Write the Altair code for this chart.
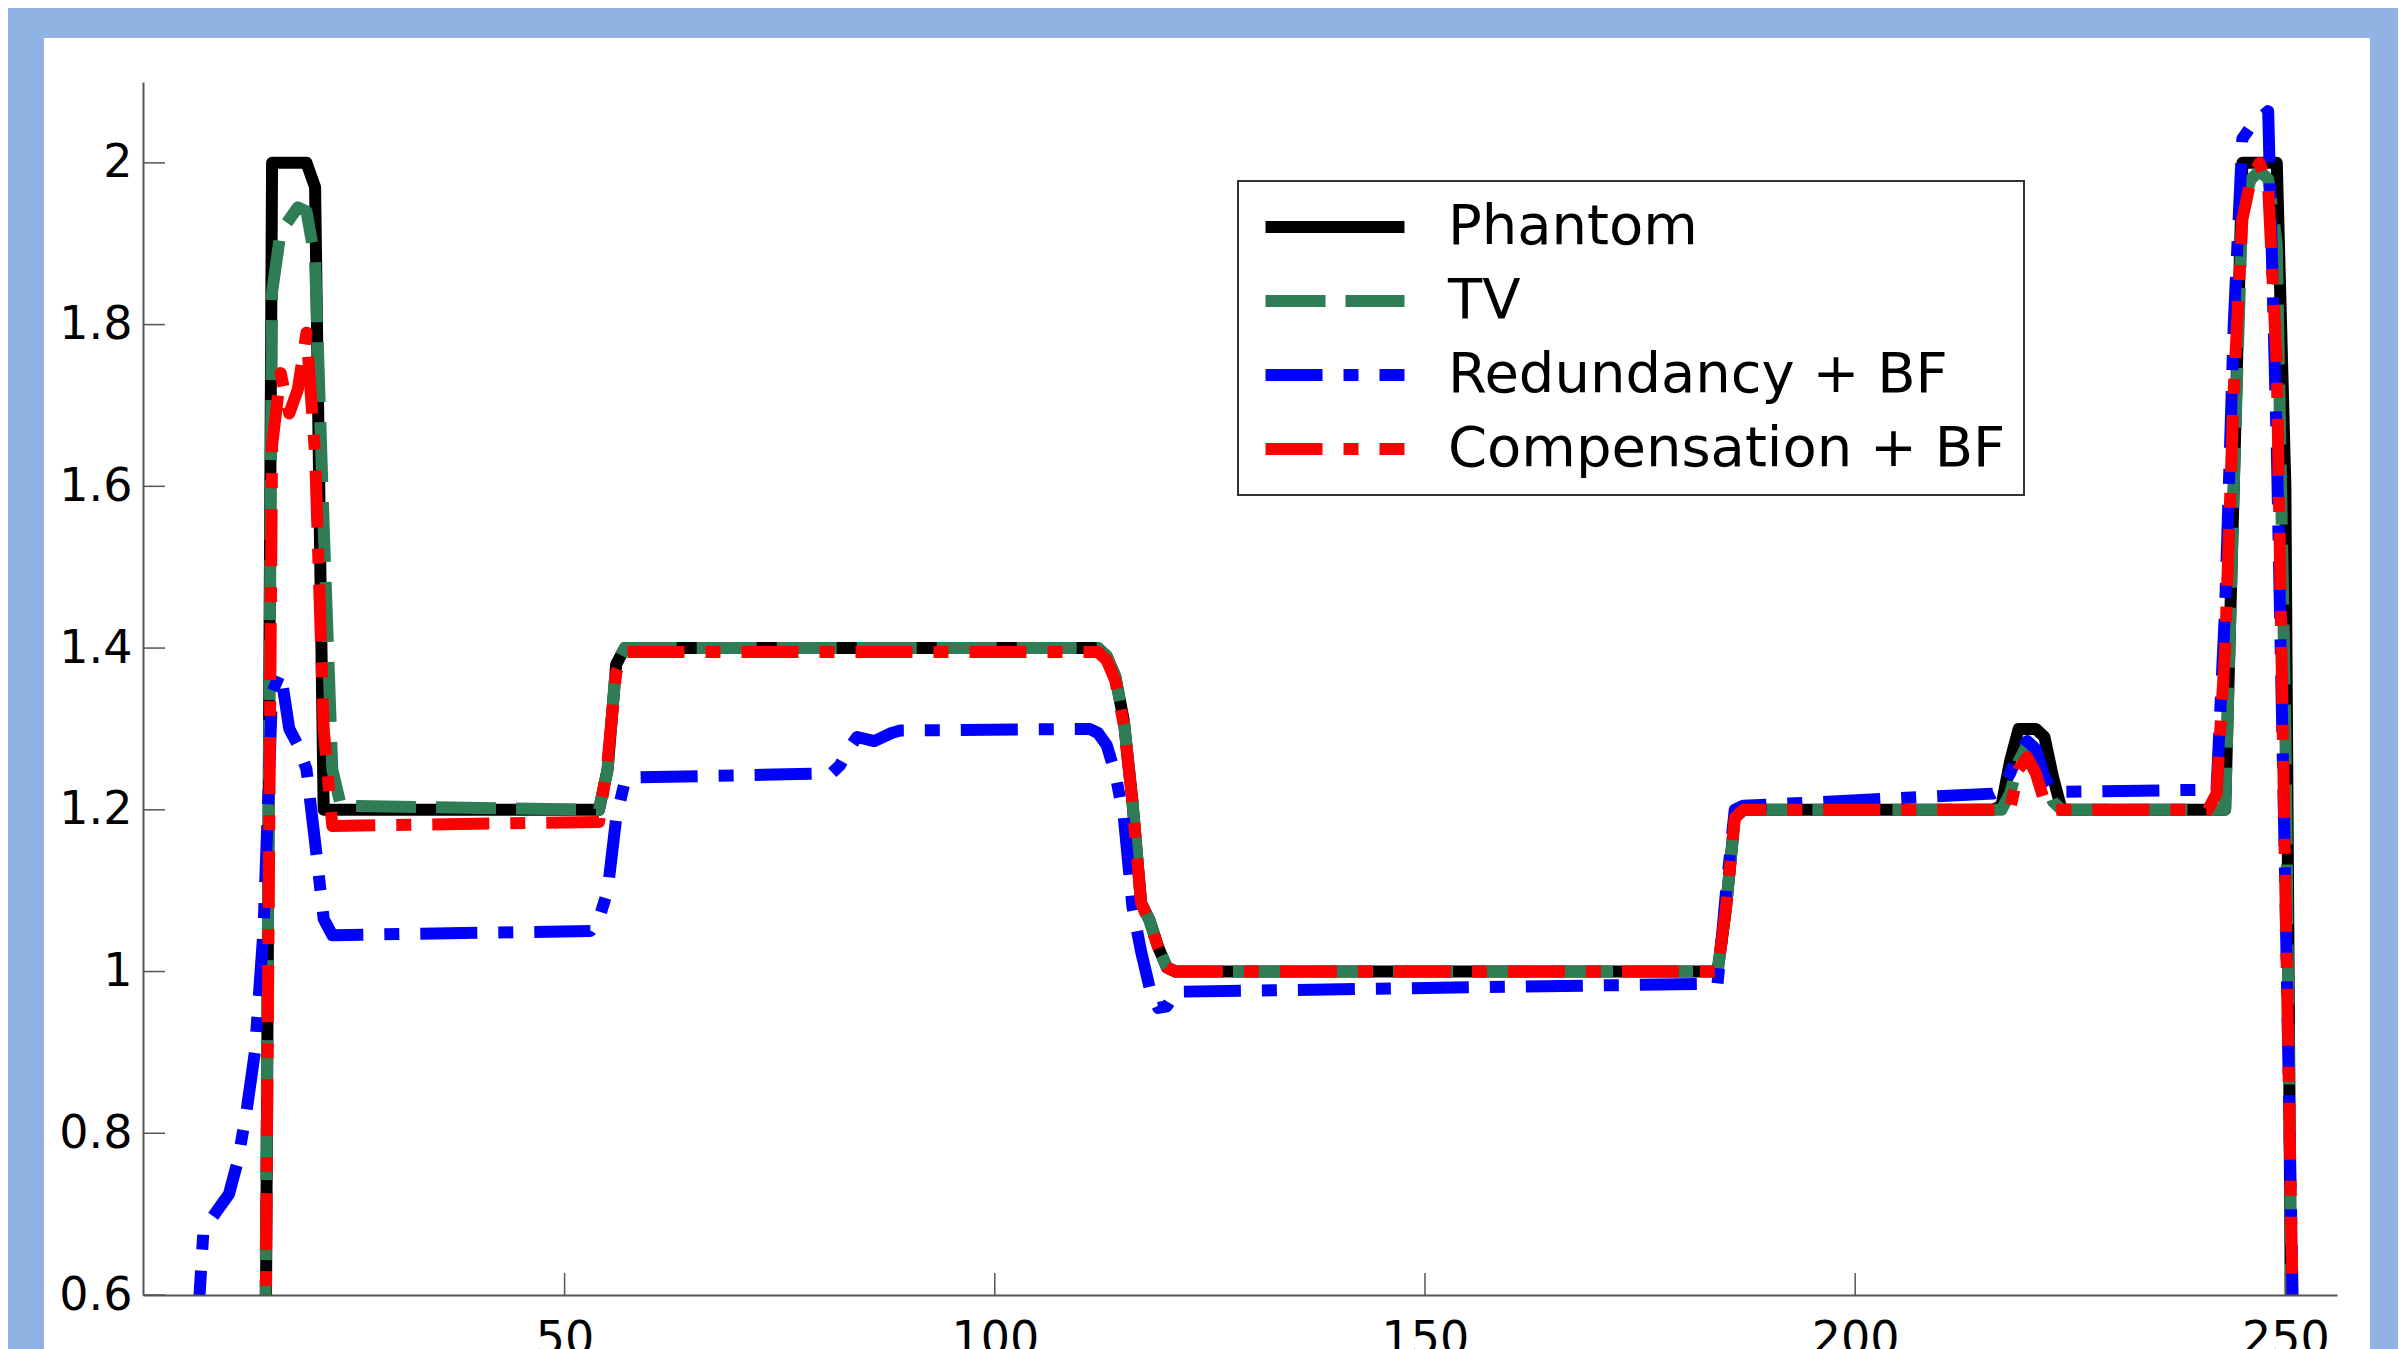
import altair as alt
import pandas as pd

SERIES = ["Phantom", "TV", "Redundancy + BF", "Compensation + BF"]
COLORS = ["#000000", "#2E7D55", "#0000FF", "#FF0000"]
DASHES = [[1, 0], [60, 20], [57, 21, 15, 21], [57, 21, 15, 21]]

X_TICKS = [50, 100, 150, 200, 250]
Y_TICKS = [0.6, 0.8, 1.0, 1.2, 1.4, 1.6, 1.8, 2.0]

PHANTOM_X = [1, 15, 16, 20, 21, 22, 54, 55, 56, 57, 112, 113, 114, 115, 116, 117, 118, 119, 120, 121,
             184, 185, 186, 187, 216, 217, 218, 219, 221, 222, 223, 224, 243, 245, 249, 250, 251, 256]
PHANTOM_Y = [0, 0, 2.0, 2.0, 1.97, 1.2, 1.2, 1.25, 1.38, 1.4, 1.4, 1.39, 1.365, 1.31, 1.21, 1.085, 1.063, 1.03, 1.005, 1.0,
             1.0, 1.08, 1.19, 1.2, 1.2, 1.205, 1.26, 1.3, 1.3, 1.29, 1.24, 1.2, 1.2, 2.0, 2.0, 1.6, 0, 0]

TV_X = [1, 15, 16, 17, 18, 19, 20, 21, 22, 23, 24, 54, 55, 56, 57, 112, 113, 114, 115, 116, 117, 118, 119, 120, 121,
        184, 185, 186, 187, 216, 217, 218, 219, 220, 221, 222, 223, 224, 243, 244, 245, 246, 247, 248, 249, 250, 251, 256]
TV_Y = [0, 0.2, 1.84, 1.915, 1.93, 1.945, 1.94, 1.88, 1.55, 1.25, 1.205, 1.2, 1.25, 1.38, 1.4, 1.4, 1.39, 1.365, 1.31, 1.21, 1.085, 1.063, 1.03, 1.005, 1.0,
        1.0, 1.08, 1.19, 1.2, 1.2, 1.2, 1.22, 1.26, 1.28, 1.27, 1.24, 1.21, 1.2, 1.2, 1.6, 1.95, 1.98, 1.99, 1.98, 1.9, 1.3, 0.3, 0]

REDUND_X = [1, 7, 8, 9, 10, 11, 12, 13, 14, 15, 16, 17, 18, 19, 20, 21, 22, 23, 53, 54, 55, 56, 57, 58,
            81, 82, 83, 84, 86, 88, 89, 111, 112, 113, 114, 115, 116, 117, 118, 119, 120, 121,
            184, 185, 186, 187, 216, 217, 218, 219, 220, 221, 222, 223, 242, 243, 244, 245, 246, 247, 248, 249, 250, 251, 256]
REDUND_Y = [0, 0.5, 0.675, 0.695, 0.71, 0.725, 0.765, 0.825, 0.9, 1.05, 1.345, 1.37, 1.3, 1.28, 1.25, 1.16, 1.065, 1.045, 1.05, 1.065, 1.1, 1.19, 1.235, 1.24,
            1.245, 1.255, 1.275, 1.29, 1.285, 1.295, 1.298, 1.3, 1.295, 1.28, 1.245, 1.19, 1.08, 1.025, 0.98, 0.955, 0.957, 0.975,
            0.985, 1.1, 1.2, 1.205, 1.22, 1.225, 1.245, 1.27, 1.285, 1.275, 1.24, 1.222, 1.225, 1.45, 1.8, 2.03, 2.045, 2.055, 2.064, 1.65, 1.1, 0.5, 0]

COMP_X = [1, 15, 16, 17, 18, 19, 20, 21, 22, 23, 54, 55, 56, 57, 112, 113, 114, 115, 116, 117, 118, 119, 120, 121,
          184, 185, 186, 187, 218, 219, 220, 221, 222, 223, 241, 242, 243, 244, 245, 246, 247, 248, 249, 250, 251, 256]
COMP_Y = [0, 0.2, 1.65, 1.74, 1.69, 1.72, 1.79, 1.64, 1.3, 1.18, 1.185, 1.26, 1.37, 1.395, 1.395, 1.385, 1.36, 1.305, 1.21, 1.085, 1.06, 1.03, 1.005, 1.0,
          1.0, 1.08, 1.19, 1.2, 1.2, 1.25, 1.265, 1.245, 1.21, 1.2, 1.2, 1.22, 1.4, 1.72, 1.93, 1.98, 2.0, 1.97, 1.75, 1.1, 0.5, 0]

W, H = 2194, 1213
FONT = "DejaVu Sans"

rows = []
for name, xs, ys in zip(SERIES, [PHANTOM_X, TV_X, REDUND_X, COMP_X], [PHANTOM_Y, TV_Y, REDUND_Y, COMP_Y]):
    for xv, yv in zip(xs, ys):
        rows.append({"x": xv, "y": yv, "series": name})
df = pd.DataFrame(rows)

xscale = alt.Scale(domain=[1, 256], nice=False, zero=False)
yscale = alt.Scale(domain=[0.6, 2.1], nice=False, zero=False)

xaxis = alt.Axis(values=X_TICKS, title=None, grid=False, ticks=False, tickSize=0, labelPadding=22,
                 labelFontSize=46, labelFont=FONT, labelColor="black", domainColor="#555555",
                 domainWidth=2, format="d", labelFlush=False, labelOverlap=False, zindex=1)
yaxis = alt.Axis(values=Y_TICKS, title=None, grid=False, ticks=False, tickSize=0, labelPadding=11,
                 labelFontSize=46, labelFont=FONT, labelColor="black", domainColor="#555555",
                 domainWidth=2, format="~g", labelFlush=False, labelOverlap=False, zindex=1)

# symbol: a horizontal stroke drawn with a custom path so the entry rows stay compact
legend = alt.Legend(orient="none", legendX=1095, legendY=99, title=None, padding=18,
                    strokeColor="#333333", fillColor="white", labelFont=FONT, labelFontSize=56,
                    labelColor="black", symbolType="M-3.2,0H3.2", symbolSize=1886, symbolStrokeWidth=12,
                    rowPadding=18, labelOffset=85, symbolOffset=51, labelLimit=2000)

color = alt.Color("series:N", scale=alt.Scale(domain=SERIES, range=COLORS), legend=legend)
dash = alt.StrokeDash("series:N", scale=alt.Scale(domain=SERIES, range=DASHES), legend=legend)

bg = alt.Chart(pd.DataFrame({"a": [0]})).mark_rect(color="white").encode(
    x=alt.value(-99), x2=alt.value(2227), y=alt.value(-44), y2=alt.value(H + 60))

lines = []
for name in SERIES:
    lines.append(
        alt.Chart(df).transform_filter(alt.datum.series == name)
        .mark_line(strokeWidth=12, clip=True, strokeJoin="round", strokeCap="butt")
        .encode(x=alt.X("x:Q", scale=xscale, axis=xaxis),
                y=alt.Y("y:Q", scale=yscale, axis=yaxis),
                color=color, strokeDash=dash)
    )

yt = alt.Chart(pd.DataFrame({"v": Y_TICKS})).mark_rule(color="#555555", strokeWidth=1.5).encode(
    y=alt.Y("v:Q", scale=yscale, axis=yaxis), x=alt.value(0), x2=alt.value(22))
xt = alt.Chart(pd.DataFrame({"v": X_TICKS})).mark_rule(color="#555555", strokeWidth=1.5).encode(
    x=alt.X("v:Q", scale=xscale, axis=xaxis), y=alt.value(H - 22), y2=alt.value(H))

chart = alt.layer(bg, *lines, yt, xt).properties(
    width=W, height=H,
    autosize=alt.AutoSizeParams(type="none"),
    padding={"left": 135, "top": 74, "right": 61, "bottom": 54},
    background="#8FB3E2",
).configure_view(stroke=None).configure_legend(strokeWidth=2)

chart.save("out.html", embed_options={"renderer": "svg", "actions": False})
